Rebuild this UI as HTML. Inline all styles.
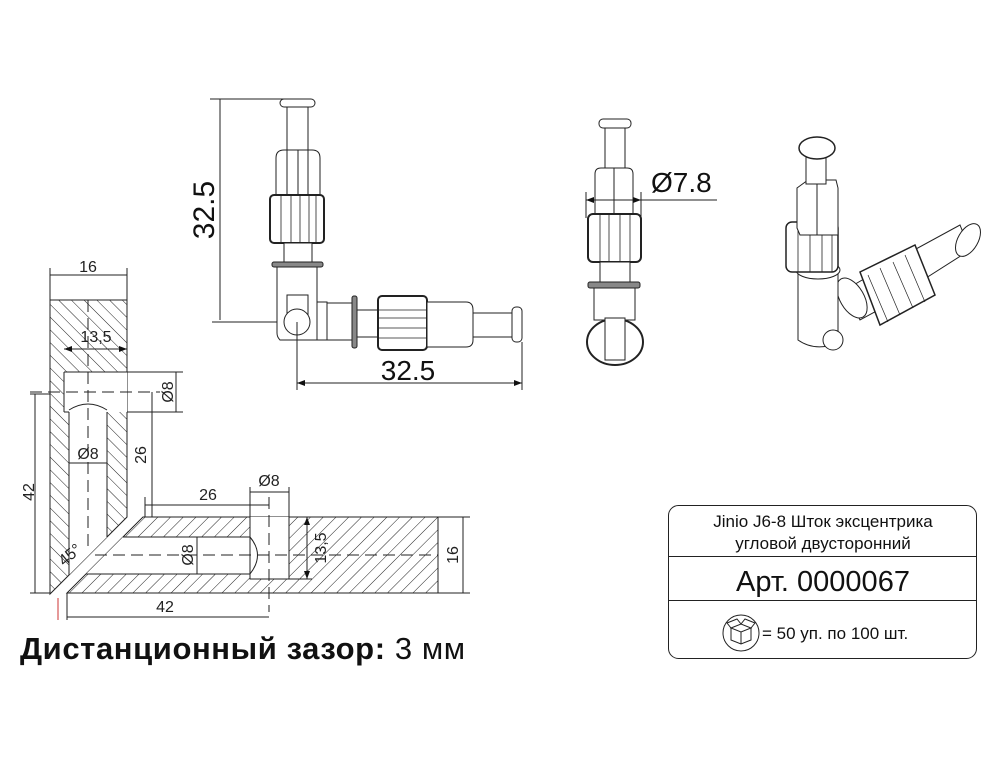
<!DOCTYPE html>
<html><head><meta charset="utf-8"><style>
html,body{margin:0;padding:0;background:#fff;}
svg{display:block;font-family:"Liberation Sans","DejaVu Sans",sans-serif;}
</style></head><body>
<svg width="1000" height="767" viewBox="0 0 1000 767" xmlns="http://www.w3.org/2000/svg">
<defs>
<pattern id="hb" patternUnits="userSpaceOnUse" width="9" height="9" patternTransform="rotate(-45)"><line x1="0" y1="0" x2="0" y2="9" stroke="#222" stroke-width="1"/></pattern>
<pattern id="hf" patternUnits="userSpaceOnUse" width="9" height="9" patternTransform="rotate(45)"><line x1="0" y1="0" x2="0" y2="9" stroke="#222" stroke-width="1"/></pattern>
<marker id="a" markerWidth="8" markerHeight="6" refX="8" refY="3" orient="auto-start-reverse" markerUnits="userSpaceOnUse"><path d="M0,0 L8,3 L0,6z" fill="#111"/></marker>
</defs>
<g stroke="#222" stroke-width="1" fill="none">
<path d="M50,300 L127,300 L127,517 L50,594 Z" fill="url(#hb)"/>
<path d="M64,372 L127,372 L127,412 L107,412 L107,537 L69,575 L69,412 L64,412 Z" fill="#fff" stroke="none"/>
<path d="M64,372 L127,372 M64,412 L69,412 M64,372 L64,412 M69,412 L69,575 M107,412 L107,537 M69,410 Q88,398 107,410"/>
<path d="M143,517 L438,517 L438,593 L67,593 Z" fill="url(#hf)"/>
<path d="M123,537 L250,537 L250,517 L289,517 L289,579 L250,579 L250,574 L86,574 Z" fill="#fff" stroke="none"/>
<path d="M123,537 L250,537 M86,574 L250,574 M250,517 L250,579 L289,579 L289,517 M250,537 Q265,555 250,574"/>
<g stroke-dasharray="12,6"><line x1="88" y1="300" x2="88" y2="548"/><line x1="30" y1="392" x2="160" y2="392"/><line x1="95" y1="555" x2="438" y2="555"/><line x1="269" y1="497" x2="269" y2="612"/></g>
<line x1="50" y1="268" x2="50" y2="300"/><line x1="127" y1="268" x2="127" y2="300"/><line x1="50" y1="275" x2="127" y2="275"/>
<line x1="64" y1="349" x2="127" y2="349" marker-start="url(#a)" marker-end="url(#a)"/>
<line x1="127" y1="372" x2="183" y2="372"/><line x1="127" y1="412" x2="183" y2="412"/><line x1="176" y1="372" x2="176" y2="412"/>
<line x1="152" y1="392" x2="152" y2="517"/>
<line x1="30" y1="394" x2="50" y2="394"/><line x1="35" y1="394" x2="35" y2="593"/><line x1="30" y1="593" x2="50" y2="593"/>
<line x1="145" y1="497" x2="145" y2="517"/><line x1="145" y1="505" x2="269" y2="505"/>
<line x1="250" y1="487" x2="250" y2="517"/><line x1="289" y1="487" x2="289" y2="517"/><line x1="250" y1="492" x2="289" y2="492"/>
<line x1="307" y1="517" x2="307" y2="579" marker-start="url(#a)" marker-end="url(#a)"/><line x1="289" y1="579" x2="312" y2="579"/>
<line x1="438" y1="517" x2="470" y2="517"/><line x1="438" y1="593" x2="470" y2="593"/><line x1="463" y1="517" x2="463" y2="593"/>
<line x1="67" y1="593" x2="67" y2="620"/><line x1="67" y1="617" x2="269" y2="617"/>
<line x1="69" y1="463" x2="107" y2="463"/><line x1="197" y1="537" x2="197" y2="574"/>
</g>
<line x1="58" y1="598" x2="58" y2="620" stroke="#c33" stroke-width="1"/>
<g font-size="16" fill="#222">
<text x="88" y="272" text-anchor="middle">16</text>
<text x="96" y="342" text-anchor="middle">13,5</text>
<text x="88" y="459" text-anchor="middle">Ø8</text>
<text x="208" y="500" text-anchor="middle">26</text>
<text x="269" y="486" text-anchor="middle">Ø8</text>
<text x="165" y="612" text-anchor="middle">42</text>
<text x="70" y="560" text-anchor="middle" transform="rotate(-40 70 555)">45°</text>
<text transform="translate(173,392) rotate(-90)" text-anchor="middle">Ø8</text>
<text transform="translate(146,455) rotate(-90)" text-anchor="middle">26</text>
<text transform="translate(34,492) rotate(-90)" text-anchor="middle">42</text>
<text transform="translate(193,555) rotate(-90)" text-anchor="middle">Ø8</text>
<text transform="translate(326,548) rotate(-90)" text-anchor="middle">13,5</text>
<text transform="translate(458,555) rotate(-90)" text-anchor="middle">16</text>
</g>
<text x="20" y="659" font-size="31" font-weight="bold" fill="#111" letter-spacing="0.6">Дистанционный зазор: <tspan font-weight="normal">3 мм</tspan></text>

<g stroke="#222" stroke-width="1" fill="#fff">
<line x1="210" y1="99" x2="285" y2="99"/><line x1="220" y1="99" x2="220" y2="320"/><line x1="212" y1="322" x2="297" y2="322"/>
<rect x="280" y="99" width="35" height="8" rx="4"/>
<rect x="287" y="107" width="21" height="44"/>
<path d="M276,195 L276,158 Q276,150 284,150 L312,150 Q320,150 320,158 L320,195"/>
<line x1="287" y1="150" x2="287" y2="195"/><line x1="298" y1="150" x2="298" y2="195"/><line x1="308" y1="150" x2="308" y2="195"/>
<rect x="270" y="195" width="54" height="48" rx="4" stroke-width="2"/>
<g stroke-width="0.8"><line x1="281" y1="196" x2="281" y2="242"/><line x1="291" y1="196" x2="291" y2="242"/><line x1="300" y1="196" x2="300" y2="242"/><line x1="309" y1="196" x2="309" y2="242"/><line x1="316" y1="196" x2="316" y2="242"/></g>
<rect x="284" y="243" width="28" height="19"/>
<rect x="272" y="262" width="51" height="5" rx="2" fill="#888"/>
<path d="M277,267 L317,267 L317,340 L280,340 Q277,337 277,333 Z"/>
<rect x="287" y="295" width="21" height="20"/>
<circle cx="297" cy="322" r="13"/>
<rect x="317" y="302" width="10" height="38"/>
<rect x="327" y="303" width="26" height="37"/>
<rect x="352" y="296" width="5" height="52" rx="2" fill="#888"/>
<rect x="357" y="310" width="21" height="27"/>
<rect x="378" y="296" width="49" height="54" rx="4" stroke-width="2"/>
<g stroke-width="0.8"><line x1="379" y1="310" x2="426" y2="310"/><line x1="379" y1="318" x2="426" y2="318"/><line x1="379" y1="328" x2="426" y2="328"/><line x1="379" y1="338" x2="426" y2="338"/></g>
<path d="M427,302 L466,302 Q473,302 473,310 L473,340 Q473,347 466,347 L427,347 Z"/>
<rect x="473" y="313" width="40" height="24"/>
<rect x="512" y="307" width="10" height="35" rx="4"/>
<line x1="297" y1="322" x2="297" y2="390"/><line x1="522" y1="342" x2="522" y2="390"/>
<line x1="297" y1="383" x2="522" y2="383" marker-start="url(#a)" marker-end="url(#a)"/>
</g>
<text transform="translate(214,210) rotate(-90)" text-anchor="middle" font-size="30" fill="#111">32.5</text>
<text x="408" y="380" text-anchor="middle" font-size="28" fill="#111">32.5</text>

<g stroke="#222" stroke-width="1" fill="#fff">
<rect x="599" y="119" width="32" height="9" rx="4"/>
<rect x="605" y="128" width="20" height="40"/>
<path d="M595,215 L595,174 Q595,168 601,168 L627,168 Q633,168 633,174 L633,215"/>
<line x1="614" y1="168" x2="614" y2="215"/>
<rect x="588" y="214" width="53" height="48" rx="5" stroke-width="2"/>
<g stroke-width="0.8"><line x1="600" y1="215" x2="600" y2="261"/><line x1="609" y1="215" x2="609" y2="261"/><line x1="620" y1="215" x2="620" y2="261"/><line x1="630" y1="215" x2="630" y2="261"/></g>
<rect x="600" y="262" width="30" height="20"/>
<rect x="588" y="282" width="52" height="6" rx="2" fill="#888"/>
<rect x="594" y="288" width="41" height="32"/>
<ellipse cx="615" cy="342" rx="28" ry="23" stroke-width="2"/>
<rect x="605" y="318" width="20" height="42"/>
<line x1="586" y1="192" x2="586" y2="218"/><line x1="641" y1="192" x2="641" y2="218"/>
<line x1="586" y1="200" x2="641" y2="200" marker-start="url(#a)" marker-end="url(#a)"/>
<line x1="641" y1="200" x2="717" y2="200"/>
</g>
<text x="651" y="192" font-size="28" fill="#111">Ø7.8</text>

<g stroke="#222" stroke-width="1" fill="#fff">
<path d="M905,255 L960,225 L970,250 L915,285 Z"/>
<ellipse cx="968" cy="240" rx="10" ry="18" transform="rotate(30 968 240)"/>
<path d="M845,290 L900,258 L915,290 L860,320 Z"/>
<path d="M860,272 L915,245 L935,295 L880,325 Z" stroke-width="1.5"/>
<g stroke-width="0.7"><line x1="868" y1="275" x2="888" y2="322"/><line x1="880" y1="268" x2="900" y2="315"/><line x1="893" y1="262" x2="913" y2="308"/><line x1="905" y1="255" x2="925" y2="302"/></g>
<ellipse cx="852" cy="298" rx="12" ry="22" transform="rotate(-30 852 298)"/>
<path d="M798,270 L798,340 Q815,352 838,343 L838,270 Z"/>
<ellipse cx="818" cy="270" rx="22" ry="9"/>
<rect x="786" y="222" width="52" height="50" rx="6" stroke-width="1.5"/>
<g stroke-width="0.8"><line x1="798" y1="225" x2="798" y2="272"/><line x1="810" y1="225" x2="810" y2="272"/><line x1="822" y1="225" x2="822" y2="272"/><line x1="832" y1="225" x2="832" y2="272"/></g>
<path d="M797,188 L808,180 L836,180 L838,188 L838,235 L800,235 L797,228 Z"/>
<line x1="817" y1="182" x2="817" y2="235"/>
<rect x="806" y="150" width="20" height="34"/>
<ellipse cx="817" cy="148" rx="18" ry="11" stroke-width="1.5"/>
<circle cx="833" cy="340" r="10"/>
</g>

<g stroke="#222" stroke-width="1" fill="none">
<rect x="668.5" y="505.5" width="308" height="153" rx="10"/>
<line x1="668" y1="556.5" x2="977" y2="556.5"/>
<line x1="668" y1="600.5" x2="977" y2="600.5"/>
<circle cx="741" cy="633" r="18"/>
<path d="M731,628 L741,624 L751,628 L741,632 Z M731,628 L731,640 L741,644 L751,640 L751,628 M741,632 L741,644 M731,628 L727,623 L737,619 L741,624 M751,628 L755,623 L745,619 L741,624"/>
</g>
<g fill="#111" text-anchor="middle">
<text x="823" y="527" font-size="17">Jinio J6-8 Шток эксцентрика</text>
<text x="823" y="549" font-size="17">угловой двусторонний</text>
<text x="823" y="591" font-size="29">Арт. 0000067</text>
</g>
<text x="762" y="639" font-size="17" fill="#111">= 50 уп. по 100 шт.</text>
</svg>
</body></html>
